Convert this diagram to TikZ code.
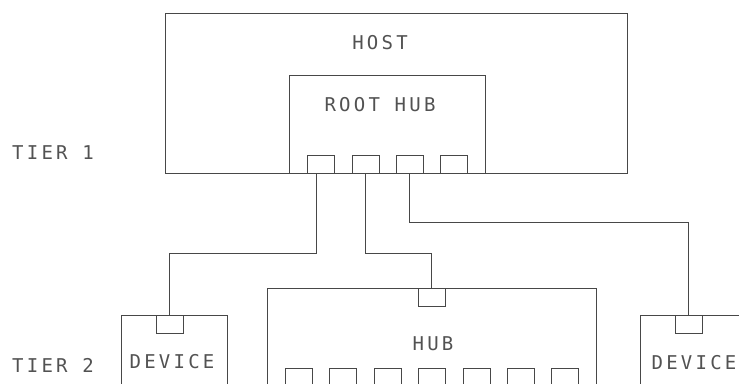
\documentclass[tikz,border=0pt]{standalone}
\usepackage{fontspec}
\newfontfamily\cadfont[LetterSpace=17]{DejaVu Sans Mono}
\begin{document}
\begin{tikzpicture}[x=1pt,y=-1pt,
  ln/.style={draw=black!72,line width=0.9pt},
  box/.style={ln,rectangle,inner sep=0pt,outer sep=0pt,anchor=north west},
  port/.style={ln,rectangle,inner sep=0pt,outer sep=0pt,minimum width=27pt,minimum height=18pt,anchor=north west},
  lbl/.style={inner sep=0pt,text=black!68,font=\cadfont\fontsize{19}{19}\selectfont},
  wire/.style={ln,line cap=rect}]
\clip (0,0) rectangle (739,383);
\fill[white] (0,0) rectangle (739,383);
% host and root hub
\node[box,minimum width=462pt,minimum height=160pt] (host) at (165,13) {};
\node[box,minimum width=196pt,minimum height=98pt] (root) at (289,75) {};
\node[lbl] (hostlbl) at (380,43) {HOST};
\node[lbl] (rootlbl) at (380,105) {ROOT HUB};
\foreach \i/\x in {1/307,2/352,3/396,4/440}
  \node[port] (rp\i) at (\x,155) {};
% tier labels
\node[lbl,anchor=west] (tier1) at (12,153) {TIER 1};
\node[lbl,anchor=west] (tier2) at (12,365) {TIER 2};
% tier 2 boxes
\node[box,minimum width=106pt,minimum height=120pt] (dev1) at (121,315) {};
\node[port] (dp1) at (156,315) {};
\node[lbl] (dev1lbl) at (172,362) {DEVICE};
\node[box,minimum width=329pt,minimum height=130pt] (hub) at (267,288) {};
\node[port] (hp) at (418,288) {};
\node[lbl] (hublbl) at (433,344) {HUB};
\foreach \i/\x in {1/285,2/329,3/374,4/418,5/463,6/507,7/551}
  \node[port] (hbp\i) at (\x,368) {};
\node[box,minimum width=106pt,minimum height=120pt] (dev2) at (640,315) {};
\node[port] (dp2) at (675,315) {};
\node[lbl] (dev2lbl) at (694,363) {DEVICE};
% connectors
\coordinate (ja) at (0,253);
\coordinate (jb) at (0,222);
\draw[wire] ([xshift=-4pt]rp1.south) -- ([xshift=-4pt]rp1.south |- ja) -| (dp1.north);
\draw[wire] (rp2.south) -- (rp2.south |- ja) -| (hp.north);
\draw[wire] (rp3.south) -- (rp3.south |- jb) -| (dp2.north);
\end{tikzpicture}
\end{document}
